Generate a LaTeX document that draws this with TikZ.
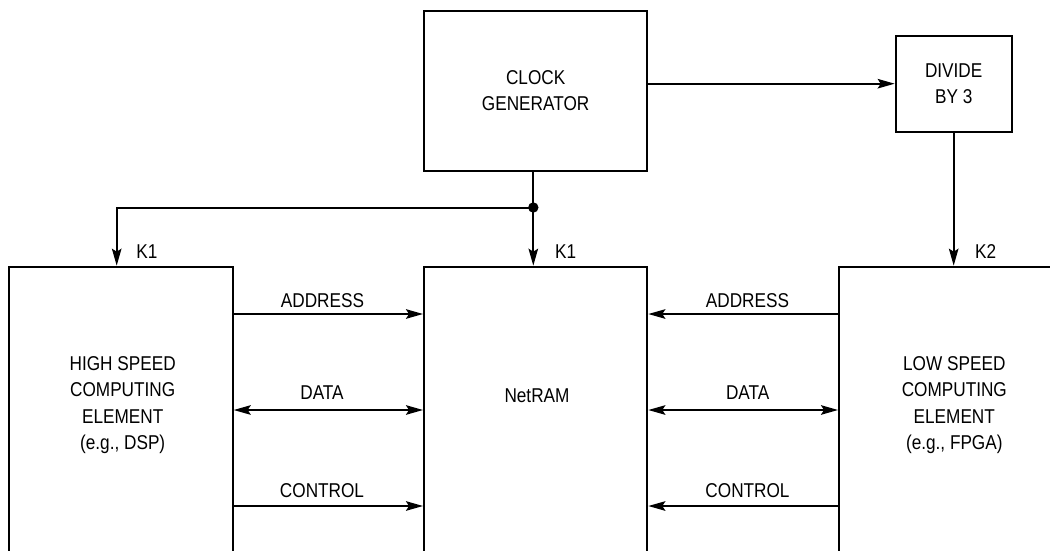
\documentclass[tikz,border=0pt]{standalone}
\usepackage{fontspec}
\setmainfont{Liberation Sans}[FakeStretch=0.86]
\usetikzlibrary{arrows.meta}
\tikzset{
  box/.style={draw, line width=2pt, inner sep=0pt},
  txt/.style={inner sep=0pt, font=\fontsize{20}{26.5}\selectfont, align=center},
  tip/.tip={Stealth[length=17pt,width=9.5pt,inset=3pt]},
  arr/.style={line width=2pt, -tip},
  darr/.style={line width=2pt, tip-tip},
  wire/.style={line width=2pt}
}
\begin{document}
\begin{tikzpicture}[x=1pt,y=1pt]
\useasboundingbox (0,0) rectangle (1050,-550);
\clip (0,0) rectangle (1050,-550);
% boxes
\node[box, minimum width=223.3pt, minimum height=159.7pt, txt] (clk) at (535.65,-90.85) {CLOCK\\GENERATOR};
\node[box, minimum width=116pt, minimum height=96pt, txt] (div) at (953.7,-83.7) {DIVIDE\\BY 3};
\node[box, minimum width=223.4pt, minimum height=333.3pt] (hs) at (121,-433.35) {};
\node[box, minimum width=223.3pt, minimum height=333.3pt] (net) at (535.65,-433.35) {};
\node[box, minimum width=223.3pt, minimum height=333.3pt] (ls) at (950.65,-433.35) {};
% box texts
\node[txt, anchor=north] (hstxt) at (122.7,-356.1) {HIGH SPEED\\COMPUTING\\ELEMENT\\(e.g., DSP)};
\node[txt] (nettxt) at (537,-395.3) {NetRAM};
\node[txt, anchor=north] (lstxt) at (954.3,-356.1) {LOW SPEED\\COMPUTING\\ELEMENT\\(e.g., FPGA)};
% clock distribution
\coordinate (j) at (533.3,-207.5);
\coordinate (lk) at (116.7,-207.5);
\draw[wire] (clk.south -| j) -- (j);
\draw[arr] (j) -- (j |- net.north);
\draw[arr] (j) -- (lk) -- (lk |- hs.north);
\fill (j) circle (5.2pt);
\draw[arr] (clk.east |- div.west) -- (div.west);
\draw[arr] (div.south) -- (div.south |- ls.north);
\node[txt] (k1a) at (147,-251.7) {K1};
\node[txt] (k1b) at (565.7,-251.7) {K1};
\node[txt] (k2) at (985.7,-251.7) {K2};
% bus rows
\coordinate (ra) at (0,-314);
\coordinate (rd) at (0,-410);
\coordinate (rc) at (0,-506);
\draw[arr] (hs.east |- ra) -- (net.west |- ra);
\draw[darr] (hs.east |- rd) -- (net.west |- rd);
\draw[arr] (hs.east |- rc) -- (net.west |- rc);
\draw[arr] (ls.west |- ra) -- (net.east |- ra);
\draw[darr] (ls.west |- rd) -- (net.east |- rd);
\draw[arr] (ls.west |- rc) -- (net.east |- rc);
\node[txt] (la1) at (322.5,-301) {ADDRESS};
\node[txt] (ld1) at (322,-393) {DATA};
\node[txt] (lc1) at (322,-491) {CONTROL};
\node[txt] (la2) at (747.5,-301) {ADDRESS};
\node[txt] (ld2) at (747.7,-393) {DATA};
\node[txt] (lc2) at (747.5,-491) {CONTROL};
\end{tikzpicture}
\end{document}
